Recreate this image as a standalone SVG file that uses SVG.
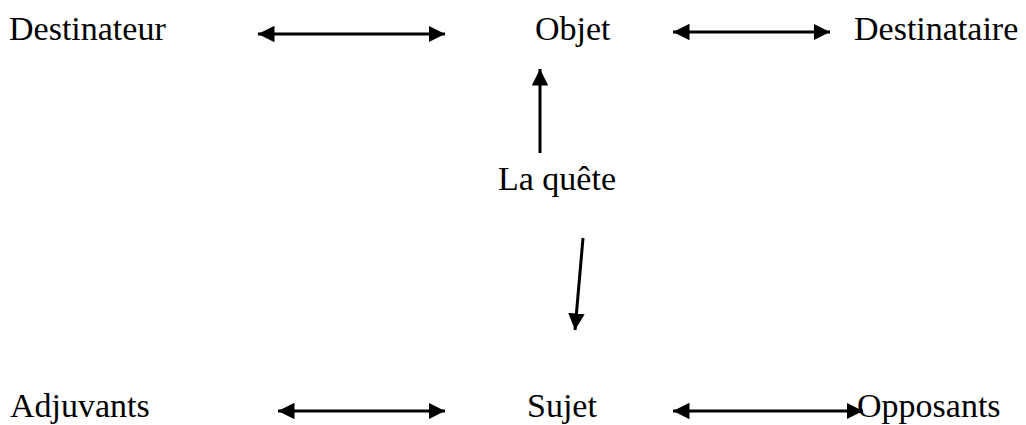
<svg xmlns="http://www.w3.org/2000/svg" width="1026" height="425" viewBox="0 0 1026 425">
<style>
text{font-family:"Liberation Serif","Times New Roman",serif;font-size:34px;fill:#000}
.c line{stroke:#000;stroke-width:3}
</style>
<defs>
<marker id="ah" viewBox="0 0 10 10" refX="10" refY="5" markerWidth="5.5" markerHeight="5.5" orient="auto-start-reverse" markerUnits="strokeWidth">
<path d="M0,0 L10,5 L0,10 z" fill="#000"/>
</marker>
</defs>
<rect width="1026" height="425" fill="#fff"/>
<g id="destinateur"><text x="9" y="40">Destinateur</text></g>
<g id="objet"><text x="535" y="40">Objet</text></g>
<g id="destinataire"><text x="854" y="40">Destinataire</text></g>
<g id="quete"><text x="498" y="190">La quête</text></g>
<g id="adjuvants"><text x="10" y="417">Adjuvants</text></g>
<g id="sujet"><text x="527" y="417">Sujet</text></g>
<g id="opposants"><text x="857" y="417">Opposants</text></g>
<g class="c" id="connectors">
<line x1="258" y1="34" x2="445" y2="34" marker-start="url(#ah)" marker-end="url(#ah)"/>
<line x1="673" y1="32" x2="830" y2="32" marker-start="url(#ah)" marker-end="url(#ah)"/>
<line x1="540" y1="153" x2="540" y2="69" marker-end="url(#ah)"/>
<line x1="583" y1="238" x2="575" y2="330" marker-end="url(#ah)"/>
<line x1="278" y1="411" x2="445" y2="411" marker-start="url(#ah)" marker-end="url(#ah)"/>
<line x1="673" y1="411" x2="863" y2="411" marker-start="url(#ah)" marker-end="url(#ah)"/>
</g>
</svg>
